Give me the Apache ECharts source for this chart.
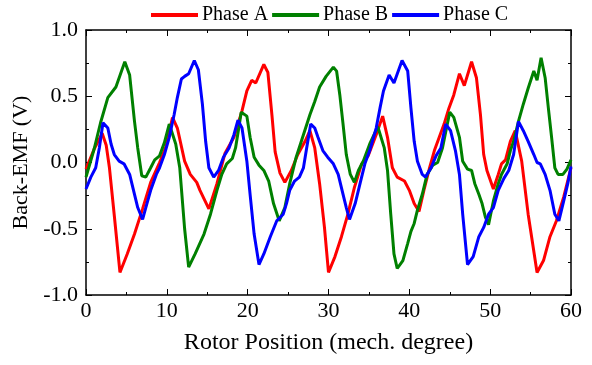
<!DOCTYPE html>
<html>
<head>
<meta charset="utf-8">
<script src="https://cdn.jsdelivr.net/npm/echarts@6/dist/echarts.min.js"></script>
<style>
  html, body { margin: 0; padding: 0; background: #fff; }
  #chart { width: 592px; height: 365px; }
</style>
</head>
<body>
<div id="chart"></div>
<script>
// rotor position (mech. degree) and back-EMF (V)
const phaseA = [
  [0,-0.05],[1,0.1],[2,0.22],[2.5,0.13],[2.9,-0.04],[3.5,-0.4],[4.2,-0.83],[5.1,-0.69],[6,-0.54],[7,-0.35],
  [8,-0.15],[9.1,0.0],[9.9,0.12],[10.7,0.34],[11.3,0.26],[12.2,0.01],[12.9,-0.09],[13.7,-0.15],[14.1,-0.21],[15.2,-0.35],
  [16.2,-0.16],[17.2,0.07],[18.3,0.19],[19.3,0.39],[19.9,0.54],[20.5,0.62],[21,0.6],[22,0.74],[22.5,0.68],[23,0.36],
  [23.4,0.08],[24,-0.08],[24.6,-0.15],[25.4,-0.06],[26.2,0.06],[27.1,0.16],[27.7,0.24],[28.3,0.11],[28.9,-0.16],[29.5,-0.49],
  [30,-0.83],[30.8,-0.71],[31.6,-0.56],[32.4,-0.39],[33.2,-0.19],[34.1,-0.01],[34.9,0.05],[35.9,0.21],[36.7,0.35],[37.3,0.19],
  [37.9,-0.04],[38.5,-0.11],[39.4,-0.14],[40,-0.21],[40.6,-0.31],[41.2,-0.37],[41.8,-0.21],[42.5,-0.04],[43.1,0.09],[43.7,0.19],
  [44.3,0.29],[44.9,0.41],[45.5,0.51],[46.2,0.67],[46.8,0.58],[47.7,0.76],[48.3,0.64],[48.8,0.36],[49.2,0.06],[49.6,-0.06],
  [50.4,-0.2],[51,-0.09],[51.4,-0.01],[51.9,0.02],[52.5,0.16],[53.1,0.24],[53.9,0.01],[54.7,-0.39],[55.8,-0.83],[56.6,-0.74],
  [57.4,-0.56],[58.2,-0.44],[59.1,-0.26],[60,-0.04]
];
const phaseB = [
  [0,-0.11],[1,0.1],[1.8,0.3],[2.7,0.49],[3.7,0.57],[4.8,0.76],[5.4,0.66],[6,0.31],[6.4,0.11],[6.9,-0.1],
  [7.4,-0.11],[8,-0.04],[8.5,0.02],[9.1,0.05],[9.7,0.15],[10.3,0.29],[11.1,0.14],[11.6,-0.04],[12.2,-0.5],[12.7,-0.79],
  [13.5,-0.69],[14.6,-0.54],[15.4,-0.39],[16.2,-0.21],[16.8,-0.09],[17.4,-0.01],[18.1,0.03],[18.5,0.11],[18.9,0.26],[19.2,0.38],
  [19.9,0.35],[20.3,0.19],[20.8,0.04],[21.4,-0.02],[22,-0.06],[22.6,-0.14],[23.2,-0.31],[23.9,-0.44],[24.6,-0.34],[25.2,-0.16],
  [26,0.04],[26.9,0.21],[27.7,0.36],[28.3,0.46],[28.9,0.57],[29.7,0.65],[30.6,0.72],[31,0.69],[31.4,0.51],[31.8,0.29],
  [32.2,0.06],[32.7,-0.09],[33.2,-0.15],[33.7,-0.06],[34.3,0.01],[35.1,0.14],[36.1,0.27],[36.9,0.11],[37.3,-0.06],[37.7,-0.39],
  [38.1,-0.69],[38.5,-0.8],[39.2,-0.74],[39.8,-0.61],[40.2,-0.52],[40.6,-0.46],[41,-0.36],[41.6,-0.24],[42.2,-0.09],[42.9,-0.02],
  [43.5,0.0],[44.1,0.11],[44.6,0.26],[45,0.38],[45.5,0.34],[46.2,0.19],[46.6,0.01],[47.2,-0.05],[47.7,-0.06],[48.1,-0.16],
  [48.6,-0.24],[49,-0.31],[49.4,-0.41],[49.8,-0.47],[50.4,-0.29],[51,-0.16],[51.4,-0.09],[52.1,-0.01],[52.5,0.09],[52.9,0.16],
  [53.5,0.31],[54.1,0.44],[54.7,0.56],[55.4,0.69],[55.8,0.62],[56.3,0.79],[56.8,0.64],[57.2,0.41],[57.6,0.19],[58,-0.04],
  [58.4,-0.09],[59,-0.09],[59.5,-0.05],[60,0.02]
];
const phaseC = [
  [0,-0.2],[0.6,-0.11],[1.2,-0.04],[1.65,0.11],[2.1,0.3],[2.7,0.26],[3.1,0.14],[3.5,0.06],[4.1,0.01],[4.7,-0.01],
  [5.4,-0.09],[6,-0.24],[6.4,-0.34],[7,-0.43],[7.4,-0.34],[8,-0.21],[8.7,-0.09],[9.1,-0.04],[9.7,0.06],[10.3,0.19],
  [10.9,0.36],[11.3,0.49],[11.8,0.63],[12.2,0.65],[12.7,0.67],[13.4,0.77],[13.9,0.7],[14.4,0.44],[14.8,0.16],[15.2,-0.04],
  [15.8,-0.11],[16.4,-0.06],[17,0.04],[17.7,0.11],[18.3,0.21],[18.8,0.32],[19.3,0.26],[19.9,0.01],[20.3,-0.24],[20.8,-0.54],
  [21.4,-0.77],[22,-0.69],[22.8,-0.56],[23.6,-0.44],[24.4,-0.39],[24.8,-0.31],[25.2,-0.21],[25.8,-0.14],[26.4,-0.11],[26.9,-0.04],
  [27.3,0.11],[27.8,0.29],[28.3,0.26],[28.7,0.19],[29.3,0.09],[29.9,0.04],[30.6,-0.01],[31.2,-0.09],[31.8,-0.24],[32.2,-0.34],
  [32.6,-0.43],[33.3,-0.31],[33.9,-0.16],[34.5,-0.01],[35.1,0.09],[35.9,0.26],[36.4,0.42],[36.8,0.54],[37.5,0.66],[38.1,0.6],
  [39.1,0.77],[39.8,0.69],[40.2,0.41],[40.6,0.16],[41,0.01],[41.6,-0.09],[42,-0.11],[42.7,-0.04],[43.3,0.05],[43.9,0.11],
  [44.5,0.29],[45.1,0.24],[45.7,0.09],[46.2,-0.09],[46.6,-0.39],[47.2,-0.77],[47.9,-0.71],[48.6,-0.56],[49.2,-0.49],[49.8,-0.39],
  [50.4,-0.34],[51,-0.21],[51.7,-0.12],[52.3,-0.06],[52.9,0.06],[53.5,0.31],[54.1,0.24],[54.7,0.16],[55.4,0.06],[55.8,0.0],
  [56.2,-0.01],[56.8,-0.09],[57.4,-0.21],[58,-0.39],[58.5,-0.44],[59.1,-0.29],[59.6,-0.16],[60,-0.03]
];
const seriesNames = ['Phase A', 'Phase B', 'Phase C'];
const seriesColors = ['#ff0000', '#008000', '#0000ff'];

const font = '"Liberation Serif", "Times New Roman", serif';
const chart = echarts.init(document.getElementById('chart'), null, { renderer: 'canvas' });

// shared box-axis look: ticks inside, minor ticks, black frame
const frame = {
  axisLine: { show: true, onZero: false, lineStyle: { color: '#000', width: 1.5 } },
  axisTick: { show: true, inside: true, length: 6, lineStyle: { color: '#000', width: 1 } },
  minorTick: { show: true, splitNumber: 2, length: 3, lineStyle: { color: '#000', width: 1 } },
  splitLine: { show: false }
};

chart.setOption({
  animation: false,
  legend: {
    top: 0,
    left: 146,
    icon: 'rect',
    itemWidth: 47,
    itemHeight: 4,
    itemGap: 4,
    textStyle: { fontFamily: font, fontSize: 20, color: '#000', padding: [0, 0, 0, -1] },
    data: seriesNames
  },
  grid: { left: 86, right: 21, top: 30, bottom: 70 },
  xAxis: [
    Object.assign({
      type: 'value', min: 0, max: 60, interval: 10, position: 'bottom',
      name: 'Rotor Position (mech. degree)', nameLocation: 'middle', nameGap: 36,
      nameTextStyle: { fontFamily: font, fontSize: 24, color: '#000' },
      axisLabel: { fontFamily: font, fontSize: 22, color: '#000', margin: 5 }
    }, frame),
    Object.assign({
      type: 'value', min: 0, max: 60, interval: 10, position: 'top',
      axisLabel: { show: false }
    }, frame)
  ],
  yAxis: [
    Object.assign({
      type: 'value', min: -1, max: 1, interval: 0.5, position: 'left',
      name: 'Back-EMF (V)', nameLocation: 'middle', nameGap: 50,
      nameTextStyle: { fontFamily: font, fontSize: 22, color: '#000' },
      axisLabel: { fontFamily: font, fontSize: 22, color: '#000', margin: 8,
        formatter: v => v.toFixed(1) }
    }, frame),
    Object.assign({
      type: 'value', min: -1, max: 1, interval: 0.5, position: 'right',
      axisLabel: { show: false }
    }, frame)
  ],
  series: [phaseA, phaseB, phaseC].map((d, i) => ({
    name: seriesNames[i],
    type: 'line',
    data: d,
    xAxisIndex: 0,
    yAxisIndex: 0,
    symbol: 'none',
    smooth: false,
    itemStyle: { color: seriesColors[i] },
    lineStyle: { color: seriesColors[i], width: 3 }
  }))
});
</script>
</body>
</html>
